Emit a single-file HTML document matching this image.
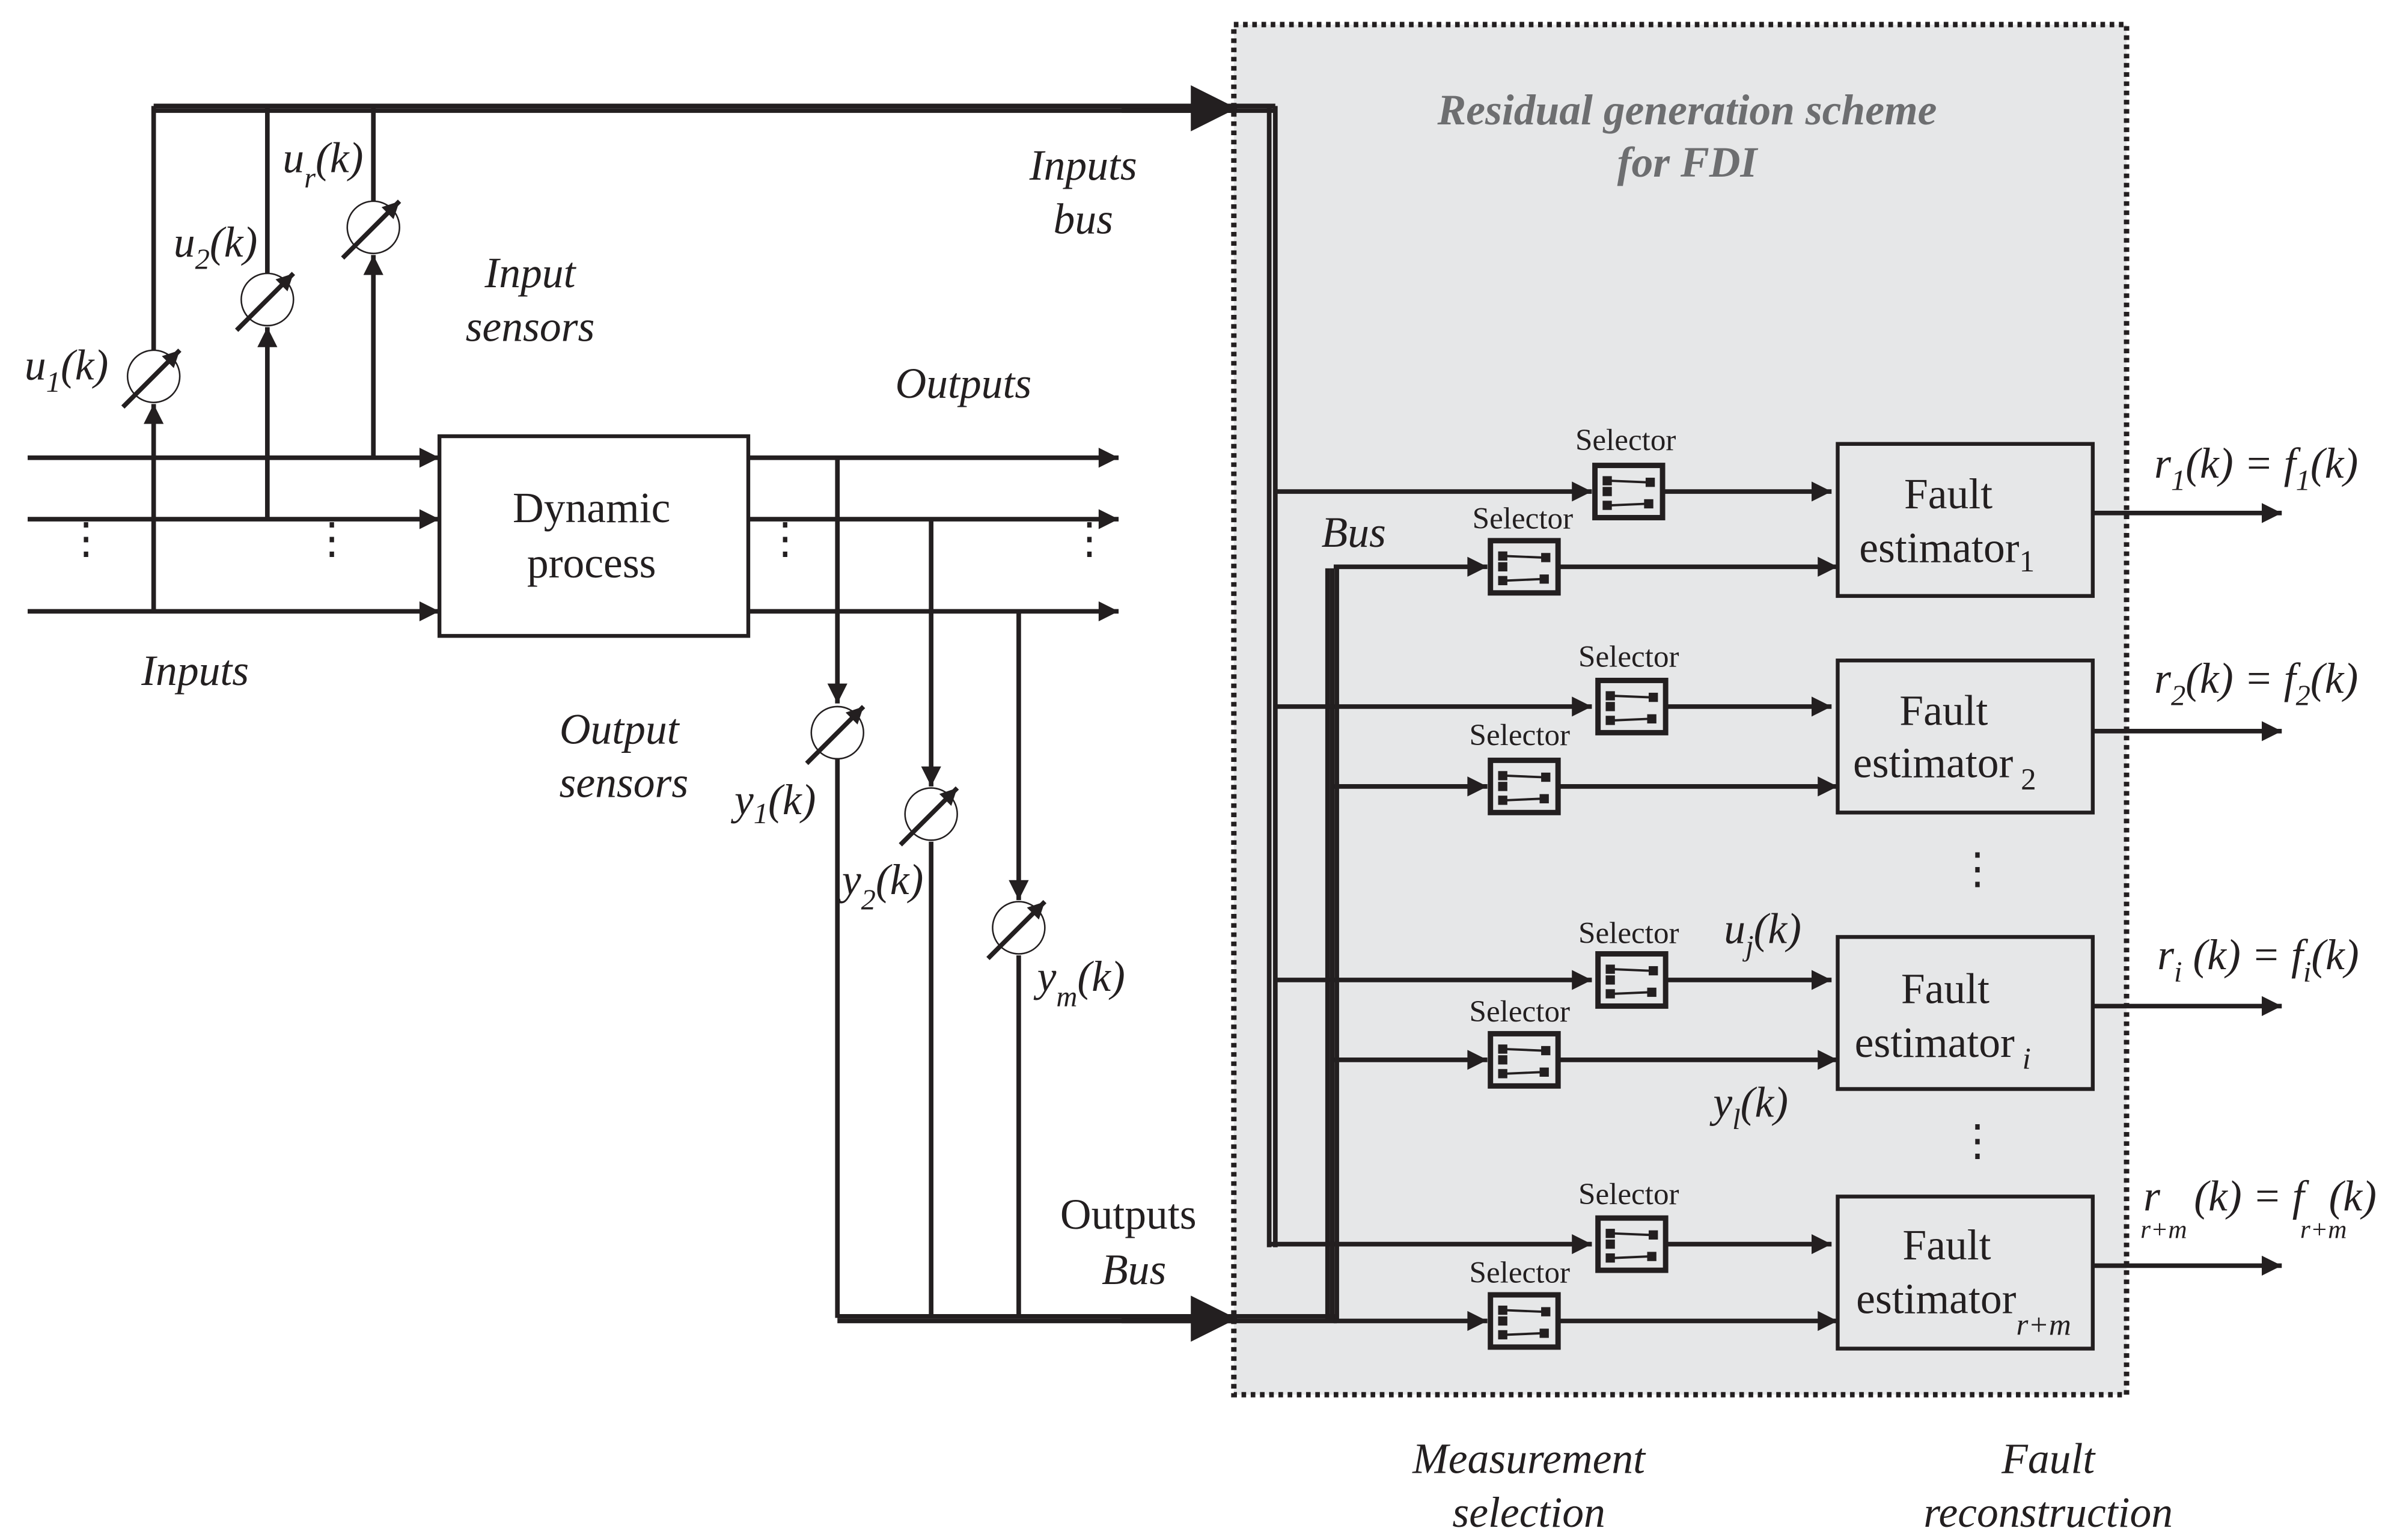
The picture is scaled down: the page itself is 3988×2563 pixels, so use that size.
<!DOCTYPE html>
<html><head><meta charset="utf-8"><style>
html,body{margin:0;padding:0;background:#fff}
svg{display:block}
text{font-family:"Liberation Serif",serif;fill:#231f20}
.i{font-style:italic;font-size:28px}
.n{font-size:28px}
.sel{font-size:20px}
</style></head><body>
<svg width="3988" height="2563" viewBox="0 0 1560 1002.6" preserveAspectRatio="none" xmlns="http://www.w3.org/2000/svg">
<defs>
<marker id="a" viewBox="0 0 10 10" refX="10" refY="5" markerWidth="17" markerHeight="13" markerUnits="userSpaceOnUse" orient="auto"><path d="M0,0L10,5L0,10z" fill="#231f20"/></marker>
<marker id="c" viewBox="0 0 10 10" refX="10" refY="5" markerWidth="13" markerHeight="11" markerUnits="userSpaceOnUse" orient="auto"><path d="M0,0L10,5L0,10z" fill="#231f20"/></marker>
<marker id="b" viewBox="0 0 10 10" refX="10" refY="5" markerWidth="38" markerHeight="30" markerUnits="userSpaceOnUse" orient="auto"><path d="M0,0L10,5L0,10z" fill="#231f20"/></marker>
<g id="sens"><circle r="17" fill="#fff" stroke="#231f20" stroke-width="1"/><line x1="-20" y1="20" x2="17" y2="-17" stroke="#231f20" stroke-width="3" marker-end="url(#c)"/></g>
<g id="sel"><rect x="0" y="0" width="44" height="34" fill="none" stroke="#231f20" stroke-width="3.5"/><rect x="5" y="7" width="6" height="6" fill="#231f20"/><rect x="5" y="14" width="6" height="6" fill="#231f20"/><rect x="5" y="23" width="6" height="6" fill="#231f20"/><rect x="33" y="8" width="6" height="6" fill="#231f20"/><rect x="32" y="22" width="6" height="6" fill="#231f20"/><line x1="10" y1="10" x2="34" y2="11" stroke="#231f20" stroke-width="1.5"/><line x1="10" y1="26" x2="33" y2="25" stroke="#231f20" stroke-width="1.5"/></g>
</defs>
<rect x="803" y="16" width="581" height="892" fill="#e6e7e8" stroke="#231f20" stroke-width="3.5" stroke-dasharray="3,3"/>
<text x="1098" y="81" text-anchor="middle" style="font-weight:bold;font-style:italic;font-size:28px;fill:#6d6e70">Residual generation scheme</text>
<text x="1098" y="115" text-anchor="middle" style="font-weight:bold;font-style:italic;font-size:28px;fill:#6d6e70">for FDI</text>
<g stroke="#231f20" fill="none" stroke-width="3">
<line x1="100" y1="69" x2="830" y2="69"/><line x1="100" y1="72" x2="830" y2="72"/>
<line x1="730" y1="70.5" x2="805" y2="70.5" stroke-width="6" marker-end="url(#b)"/>
<line x1="826" y1="69" x2="826" y2="812"/><line x1="830" y1="69" x2="830" y2="812"/>
<line x1="100" y1="69" x2="100" y2="228"/><line x1="100" y1="398" x2="100" y2="263" marker-end="url(#a)"/>
<line x1="174" y1="69" x2="174" y2="178"/><line x1="174" y1="338" x2="174" y2="213" marker-end="url(#a)"/>
<line x1="243" y1="69" x2="243" y2="131"/><line x1="243" y1="298" x2="243" y2="166" marker-end="url(#a)"/>
<line x1="18" y1="298" x2="286" y2="298" marker-end="url(#a)"/>
<line x1="18" y1="338" x2="286" y2="338" marker-end="url(#a)"/>
<line x1="18" y1="398" x2="286" y2="398" marker-end="url(#a)"/>
<rect x="286" y="284" width="201" height="130" stroke-width="2.5"/>
<line x1="487" y1="298" x2="728" y2="298" marker-end="url(#a)"/>
<line x1="487" y1="338" x2="728" y2="338" marker-end="url(#a)"/>
<line x1="487" y1="398" x2="728" y2="398" marker-end="url(#a)"/>
<line x1="545" y1="298" x2="545" y2="458" marker-end="url(#a)"/><line x1="545" y1="494" x2="545" y2="858"/>
<line x1="606" y1="338" x2="606" y2="512" marker-end="url(#a)"/><line x1="606" y1="548" x2="606" y2="858"/>
<line x1="663" y1="398" x2="663" y2="586" marker-end="url(#a)"/><line x1="663" y1="622" x2="663" y2="858"/>
<line x1="545" y1="857" x2="870" y2="857"/><line x1="545" y1="860" x2="870" y2="860"/>
<line x1="730" y1="858.5" x2="805" y2="858.5" stroke-width="6" marker-end="url(#b)"/>
<line x1="864" y1="370" x2="864" y2="860"/><line x1="867" y1="370" x2="867" y2="860"/><line x1="870" y1="370" x2="870" y2="860"/>
<line x1="826" y1="810" x2="1036" y2="810" marker-end="url(#a)"/>
</g>
<use href="#sens" x="100" y="245"/><use href="#sens" x="174" y="195"/><use href="#sens" x="243" y="148"/>
<use href="#sens" x="545" y="477"/><use href="#sens" x="606" y="530"/><use href="#sens" x="663" y="604"/>
<g stroke="#231f20" stroke-width="3" fill="none">
<line x1="830" y1="320" x2="1036" y2="320" marker-end="url(#a)"/><line x1="868" y1="369" x2="968" y2="369" marker-end="url(#a)"/>
<line x1="830" y1="460" x2="1036" y2="460" marker-end="url(#a)"/><line x1="868" y1="512" x2="968" y2="512" marker-end="url(#a)"/>
<line x1="830" y1="638" x2="1036" y2="638" marker-end="url(#a)"/><line x1="868" y1="690" x2="968" y2="690" marker-end="url(#a)"/>
<line x1="868" y1="860" x2="968" y2="860" marker-end="url(#a)"/>
<line x1="1082" y1="320" x2="1192" y2="320" marker-end="url(#a)"/><line x1="1014" y1="369" x2="1196" y2="369" marker-end="url(#a)"/>
<line x1="1084" y1="460" x2="1192" y2="460" marker-end="url(#a)"/><line x1="1014" y1="512" x2="1196" y2="512" marker-end="url(#a)"/>
<line x1="1084" y1="638" x2="1192" y2="638" marker-end="url(#a)"/><line x1="1014" y1="690" x2="1196" y2="690" marker-end="url(#a)"/>
<line x1="1084" y1="810" x2="1192" y2="810" marker-end="url(#a)"/><line x1="1014" y1="860" x2="1196" y2="860" marker-end="url(#a)"/>
<rect x="1196" y="289" width="166" height="99" stroke-width="2.5"/>
<rect x="1196" y="430" width="166" height="99" stroke-width="2.5"/>
<rect x="1196" y="610" width="166" height="99" stroke-width="2.5"/>
<rect x="1196" y="779" width="166" height="99" stroke-width="2.5"/>
<line x1="1362" y1="334" x2="1485" y2="334" marker-end="url(#a)"/>
<line x1="1362" y1="476" x2="1485" y2="476" marker-end="url(#a)"/>
<line x1="1362" y1="655" x2="1485" y2="655" marker-end="url(#a)"/>
<line x1="1362" y1="824" x2="1485" y2="824" marker-end="url(#a)"/>
</g>
<use href="#sel" x="1038" y="303"/><use href="#sel" x="970" y="352"/>
<use href="#sel" x="1040" y="443"/><use href="#sel" x="970" y="495"/>
<use href="#sel" x="1040" y="621"/><use href="#sel" x="970" y="673"/>
<use href="#sel" x="1040" y="793"/><use href="#sel" x="970" y="843"/>
<text x="1058" y="293" text-anchor="middle" class="sel">Selector</text><text x="991" y="344" text-anchor="middle" class="sel">Selector</text>
<text x="1060" y="434" text-anchor="middle" class="sel">Selector</text><text x="989" y="485" text-anchor="middle" class="sel">Selector</text>
<text x="1060" y="614" text-anchor="middle" class="sel">Selector</text><text x="989" y="665" text-anchor="middle" class="sel">Selector</text>
<text x="1060" y="784" text-anchor="middle" class="sel">Selector</text><text x="989" y="835" text-anchor="middle" class="sel">Selector</text>
<text x="385" y="340" text-anchor="middle" class="n">Dynamic</text><text x="385" y="376" text-anchor="middle" class="n">process</text>
<text x="1268" y="331" text-anchor="middle" class="n">Fault</text><text x="1210" y="366" class="n">estimator<tspan font-size="20" dy="6">1</tspan></text>
<text x="1265" y="472" text-anchor="middle" class="n">Fault</text><text x="1206" y="506" class="n">estimator<tspan font-size="20" dy="8"> 2</tspan></text>
<text x="1266" y="653" text-anchor="middle" class="n">Fault</text><text x="1207" y="688" class="n">estimator<tspan font-size="20" font-style="italic" dy="8"> i</tspan></text>
<text x="1267" y="820" text-anchor="middle" class="n">Fault</text><text x="1208" y="855" class="n">estimator<tspan font-size="20" font-style="italic" dy="14">r+m</tspan></text>
<text x="690" y="800" class="n">Outputs</text><text x="717" y="836" class="i">Bus</text>
<text x="705" y="117" text-anchor="middle" class="i">Inputs</text><text x="705" y="152" text-anchor="middle" class="i">bus</text>
<text x="345" y="187" text-anchor="middle" class="i">Input</text><text x="345" y="222" text-anchor="middle" class="i">sensors</text>
<text x="627" y="259" text-anchor="middle" class="i">Outputs</text>
<text x="127" y="446" text-anchor="middle" class="i">Inputs</text>
<text x="403" y="484" text-anchor="middle" class="i">Output</text><text x="406" y="519" text-anchor="middle" class="i">sensors</text>
<text x="881" y="356" text-anchor="middle" class="i">Bus</text>
<text x="995" y="959" text-anchor="middle" class="i">Measurement</text><text x="995" y="994" text-anchor="middle" class="i">selection</text>
<text x="1333" y="959" text-anchor="middle" class="i">Fault</text><text x="1333" y="994" text-anchor="middle" class="i">reconstruction</text>
<text x="16" y="247" class="i">u<tspan font-size="19" dy="8">1</tspan><tspan dy="-8">(k)</tspan></text>
<text x="113" y="167" class="i">u<tspan font-size="19" dy="8">2</tspan><tspan dy="-8">(k)</tspan></text>
<text x="184" y="112" class="i">u<tspan font-size="19" dy="10">r</tspan><tspan dy="-10">(k)</tspan></text>
<text x="478" y="530" class="i">y<tspan font-size="19" dy="6">1</tspan><tspan dy="-6">(k)</tspan></text>
<text x="548" y="582" class="i">y<tspan font-size="19" dy="10">2</tspan><tspan dy="-10">(k)</tspan></text>
<text x="675" y="645" class="i">y<tspan font-size="19" dy="10">m</tspan><tspan dy="-10">(k)</tspan></text>
<text x="1122" y="614" class="i">u<tspan font-size="19" dy="8">j</tspan><tspan dy="-8">(k)</tspan></text>
<text x="1115" y="727" class="i">y<tspan font-size="19" dy="8">l</tspan><tspan dy="-8">(k)</tspan></text>
<text x="1402" y="311" class="i">r<tspan font-size="19" dy="8">1</tspan><tspan dy="-8">(k) = f</tspan><tspan font-size="19" dy="8">1</tspan><tspan dy="-8">(k)</tspan></text>
<text x="1402" y="451" class="i">r<tspan font-size="19" dy="8">2</tspan><tspan dy="-8">(k) = f</tspan><tspan font-size="19" dy="8">2</tspan><tspan dy="-8">(k)</tspan></text>
<text x="1404" y="631" class="i">r<tspan font-size="19" dy="8">i</tspan><tspan dy="-8"> (k) = f</tspan><tspan font-size="19" dy="8">i</tspan><tspan dy="-8">(k)</tspan></text>
<text x="1395" y="788" class="i">r<tspan dx="22">(k) = f</tspan><tspan dx="16">(k)</tspan></text>
<text x="1393" y="806" style="font-style:italic;font-size:17px">r+m</text><text x="1497" y="806" style="font-style:italic;font-size:17px">r+m</text>
<text x="42" y="360" class="n">⋮</text><text x="202" y="360" class="n">⋮</text><text x="497" y="360" class="n">⋮</text><text x="695" y="360" class="n">⋮</text>
<text x="1273" y="575" class="n">⋮</text><text x="1273" y="752" class="n">⋮</text>
</svg>
</body></html>
